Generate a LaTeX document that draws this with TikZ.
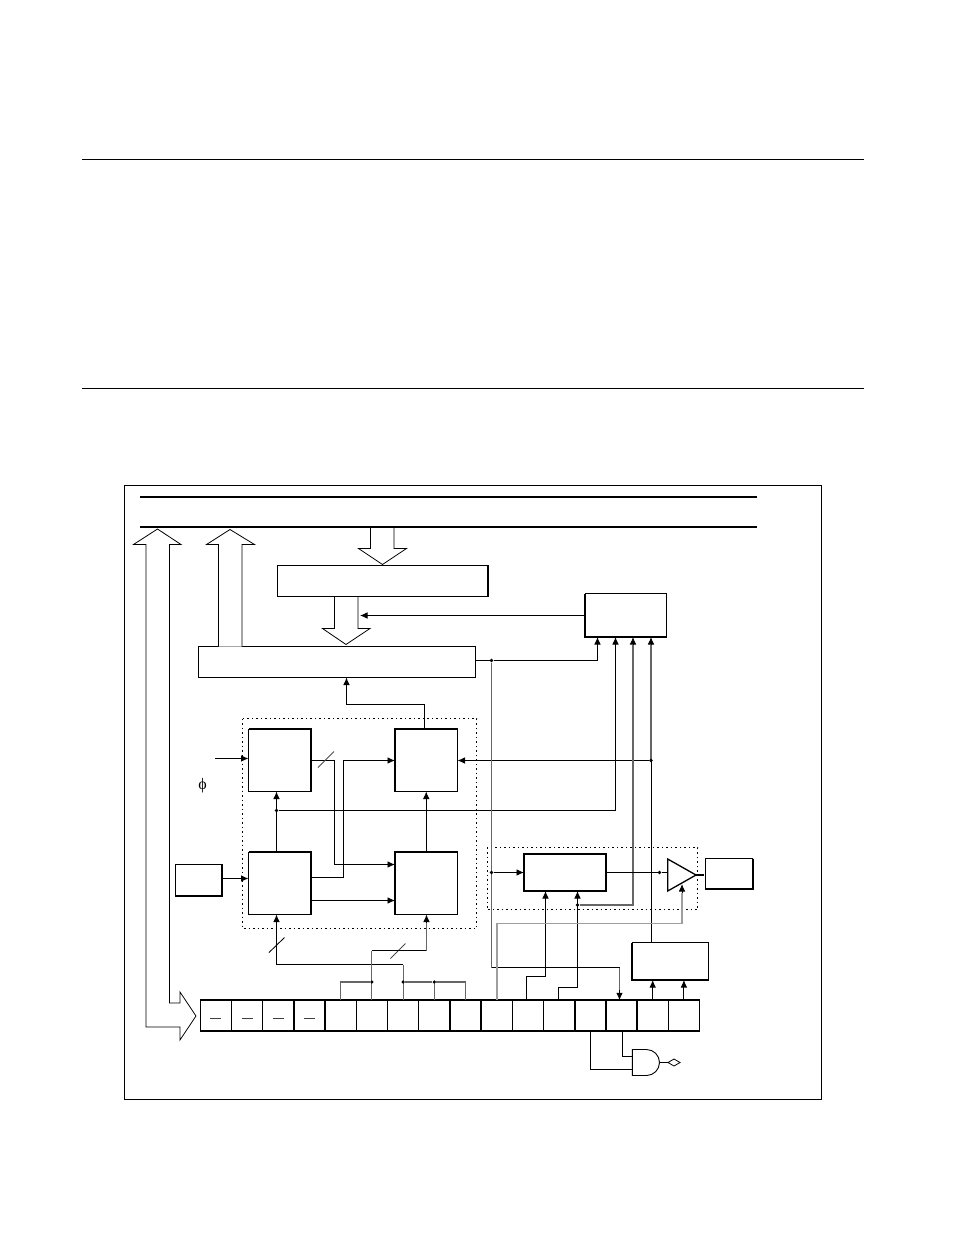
\documentclass[tikz,border=0pt]{standalone}
\usepackage{fontspec}
\setmainfont{Liberation Serif}
\usetikzlibrary{arrows.meta,shapes.geometric,calc}
\tikzset{
  wire/.style={line width=.85pt,black},
  graywire/.style={line width=1.1pt,black!60},
  arr/.style={-{Latex[length=7.5pt,width=6.5pt]}},
  boxx/.style={draw,line width=.9pt,fill=white,inner sep=0pt,outer sep=0pt},
  thk/.style={line width=2pt,line cap=square},
  dots/.style={draw,line width=.9pt,dash pattern=on 1.5pt off 3pt},
  blockarrow/.style={draw,line width=.8pt,fill=white,line join=miter},
  busline/.style={line width=2pt},
  sepline/.style={line width=.9pt},
  jdot/.style={circle,fill=black,inner sep=0pt,minimum size=3.6pt},
  cell/.style={boxx,minimum width=31.2pt,minimum height=30.5pt},
  celldash/.style={line width=.7pt,black!75},
}
\newcommand{\mkbox}[5]{%
  \pgfmathsetmacro{\cxx}{(#2+#4)/2}\pgfmathsetmacro{\cyy}{(#3+#5)/2}%
  \pgfmathsetmacro{\wdd}{#4-#2}\pgfmathsetmacro{\htt}{#5-#3}%
  \node[boxx,minimum width=\wdd pt,minimum height=\htt pt] (#1) at (\cxx,\cyy) {};}
\begin{document}
\begin{tikzpicture}[x=1pt,y=-1pt]
\useasboundingbox (0,0) rectangle (954,1235);
% page rules
\coordinate (r1a) at (82,159.5); \coordinate (r1b) at (863.5,159.5);
\coordinate (r2a) at (82,388.5); \coordinate (r2b) at (863.5,388.5);
\draw[sepline] (r1a) -- (r1b);
\draw[sepline] (r2a) -- (r2b);
% frame
\node[draw,line width=.9pt,inner sep=0pt,outer sep=0pt,minimum width=697pt,minimum height=614pt] (frame) at (473,792.5) {};
% buses
\coordinate (b1a) at (140,497); \coordinate (b1b) at (757,497);
\coordinate (b2a) at (140,527); \coordinate (b2b) at (757,527);
\draw[busline] (b1a) -- (b1b);
\draw[busline] (b2a) -- (b2b);
% dotted groups
\draw[dots] (242.5,718.5) rectangle (476.5,928.5);
\draw[dots] (487,847.5) rectangle (697.5,909.5);
% boxes
\mkbox{aa}{277.5}{565.5}{488}{596.5}
\mkbox{bb}{198.5}{646.5}{475.5}{677.5}
\mkbox{cc}{585}{593.5}{666.5}{637}
\mkbox{tl}{248.5}{729}{311}{791.5}
\mkbox{tr}{395}{729}{457.5}{791.5}
\mkbox{bl}{248.5}{852}{311}{914.5}
\mkbox{br}{395}{852}{457.5}{914.5}
\mkbox{dd}{175.5}{864.5}{222}{896}
\mkbox{ff}{524}{854}{605.5}{891}
\mkbox{gg}{705.5}{858.5}{752.5}{889}
\mkbox{ee}{632}{942.5}{708.5}{980}
% thick sides
\draw[thk] (aa.north east) -- (aa.south east);
\draw[thk] (cc.north west) -- (cc.south west) -- (cc.south east);
\draw[thk] (tl.north west) -- (tl.north east) -- (tl.south east);
\draw[thk] (tr.south west) -- (tr.north west) -- (tr.north east);
\draw[thk] (bl.north west) -- (bl.north east) -- (bl.south east);
\draw[thk] (br.south west) -- (br.north west) -- (br.north east);
\draw[thk] (dd.north east) -- (dd.south east) -- (dd.south west);
\draw[thk] (ff.south west) -- (ff.north west) -- (ff.north east) -- (ff.south east) -- cycle;
\draw[thk] (gg.north east) -- (gg.south east) -- (gg.south west);
\draw[thk] (ee.north west) -- (ee.south west) -- (ee.south east);
% register cells
\foreach \i in {0,...,15}{
  \pgfmathsetmacro{\cx}{215.9+31.2*\i}
  \node[cell] (c\i) at (\cx,1015.5) {};
}
\foreach \a in {c3,c4,c8,c9,c12,c13,c14}{
  \draw[thk,line cap=butt] (\a.north west) -- (\a.south west);
}
\draw[thk,line cap=butt] (c0.north west) -- (c15.north east);
\draw[thk,line cap=butt] (c0.south west) -- (c15.south east);
\foreach \i in {0,...,3}{
  \draw[celldash] ($(c\i.center)+(-5.5,3)$) -- ($(c\i.center)+(5.5,3)$);
}
% block arrows
\draw[blockarrow] (169.5,1003) -- (180,1003) -- (180,992) -- (196,1016) -- (180,1040) -- (180,1027) -- (146,1027) -- (146,544.5) -- (133.5,544.5) -- (157.5,529) -- (181,544.5) -- (169.5,544.5) -- cycle;
\draw[blockarrow] (218.5,646.5) -- (218.5,544.5) -- (206.5,544.5) -- (230,529.5) -- (254.5,544.5) -- (242,544.5) -- (242,646.5);
\draw[blockarrow] (370.5,528) -- (370.5,548.5) -- (358.5,548.5) -- (382.5,564.5) -- (406.5,548.5) -- (394,548.5) -- (394,528);
\draw[blockarrow] (334.5,597) -- (334.5,628.5) -- (322.5,628.5) -- (346,644.5) -- (370,628.5) -- (358,628.5) -- (358,597);
% wires upper
\coordinate (cAr) at (360,615.5);
\draw[wire,arr] (cc.west |- cAr) -- (cAr);
\draw[wire,arr] (tr.north -| 424,0) -- (424,704.5) -- (346.5,704.5) -- (bb.south -| 346.5,0);
\node[jdot] (j1) at (491.5,660.5) {};
\draw[wire,arr] (bb.east |- j1) -- (j1) -- (597.5,660.5) -- (cc.south -| 597.5,0);
% clock
\coordinate (clk) at (215,758.5);
\draw[wire,arr] (clk) -- (clk -| tl.west);
\node[inner sep=0pt,font=\fontsize{16}{16}\selectfont] (phi) at (202.5,786) {\char"03D5};
% inside group
\draw[wire,arr] (dd.east |- 0,878.5) -- (bl.west |- 0,878.5);
\coordinate (j2c) at (276.5,810.5);
\draw[wire,arr] (bl.north -| j2c) -- (tl.south -| j2c);
\node[jdot] (j2) at (j2c) {};
\draw[wire,arr] (br.north) -- (tr.south);
\draw[wire,arr] (j2) -- (615.5,810.5) -- (cc.south -| 615.5,0);
\draw[wire,arr] (tl.east |- 0,760.5) -- (334.5,760.5) -- (334.5,864.5) -- (br.west |- 0,864.5);
\draw[wire,arr] (bl.east |- 0,877.5) -- (343.5,877.5) -- (343.5,760.5) -- (tr.west |- 0,760.5);
\draw[wire,arr] (bl.east |- 0,900.5) -- (br.west |- 0,900.5);
\coordinate (s651) at (651,645);
\draw[graywire] (651,760.5) -- (s651);
\draw[wire,arr] (s651) -- (cc.south -| s651);
\draw[wire] (ee.north -| 651,0) -- (651,760.5);
\node[jdot] (j3) at (651,760.5) {};
\draw[wire,arr] (j3) -- (tr.east |- j3);
% slashes
\draw[wire,black!70] (318,767.5) -- (334,751.5);
\draw[wire] (269,952.5) -- (284.5,937.5);
\draw[wire,black!70] (390.5,958.5) -- (405.5,943.5);
% register to group
\coordinate (h6) at (c6.north |- 0,964.5);
\coordinate (h5) at (c5.north |- 0,950.5);
\draw[graywire] (c6.north) -- (h6);
\draw[wire,arr] (h6) -- (276.5,964.5) -- (bl.south -| 276.5,0);
\draw[graywire] (c5.north) -- (h5);
\draw[wire] (h5) -- (426.5,950.5);
\coordinate (s426) at (426.5,923);
\draw[graywire] (426.5,950.5) -- (s426);
\draw[wire,arr] (s426) -- (br.south -| s426);
\node[jdot] (j5) at (c5.north |- 0,982) {};
\node[jdot] (j6) at (c6.north |- 0,982) {};
\node[jdot] (j7) at (c7.north |- 0,982) {};
\draw[graywire] (c4.north) |- (j5);
\draw[graywire] (j6) -- (j7) -- (c8.north |- j7) -- (c8.north);
\draw[graywire] (j7) -- (c7.north);
% right column
\draw[graywire] (j1) -- (491.5,967.5);
\node[jdot] (j8) at (491.5,872.5) {};
\draw[wire] (491.5,967.5) -- (619.5,967.5);
\coordinate (s619) at (619.5,990);
\draw[graywire] (619.5,967.5) -- (s619);
\draw[wire,arr] (s619) -- (c13.north -| s619);
\draw[wire,arr] (j8) -- (ff.west |- j8);
% F block
\coordinate (fin1) at (545.5,892);
\coordinate (fin2) at (577.5,892);
\draw[wire,arr] (c10.north) ++(-1,0) |- (545.5,976.5) -- (ff.south -| fin1);
\draw[wire,arr] (c11.north) ++(-1,0) |- (577.5,987.5) -- (ff.south -| fin2);
\node[jdot] (j9) at (577.5,905) {};
\coordinate (s633) at (633,645);
\draw[graywire] (j9) -- (633,905) -- (s633);
\draw[wire,arr] (s633) -- (cc.south -| s633);
% amp
\coordinate (ampa) at (667.7,859); \coordinate (ampb) at (667.7,891); \coordinate (tip) at (696,875);
\draw[line width=1.3pt,fill=white,line join=miter] (ampa) -- (tip) -- (ampb) -- cycle;
\node[jdot] (j10) at (659.5,872.5) {};
\draw[wire] (ff.east |- j10) -- (j10) -- (667.7,872.5);
\draw[line width=2pt] (tip) -- (704,875);
\coordinate (s682) at (682,893);
\draw[line width=1.6pt,black!38] (c9.north) |- (682,923.5) -- (s682);
\draw[wire,arr] (s682) -- (682,884);
% E block
\draw[wire,arr] (c14.north) -- (c14.north |- ee.south);
\draw[wire,arr] (c15.north) -- (c15.north |- ee.south);
% AND gate
\coordinate (ga) at (632.3,1049.5); \coordinate (gb) at (632.3,1075.5);
\draw[line width=.9pt,fill=white] (gb) -- (ga) -- (646.5,1049.5) arc[start angle=-90,end angle=90,radius=13] -- cycle;
\draw[wire] (c12.south) |- (632.3,1069.5);
\draw[wire] (c13.south) ++(1,0) |- (632.3,1056.5);
\node[draw,diamond,line width=.8pt,inner sep=0pt,outer sep=0pt,minimum width=12pt,minimum height=7pt] (dm) at (674,1062.5) {};
\draw[wire] (659,1062.5) -- (dm.west);
\end{tikzpicture}
\end{document}
